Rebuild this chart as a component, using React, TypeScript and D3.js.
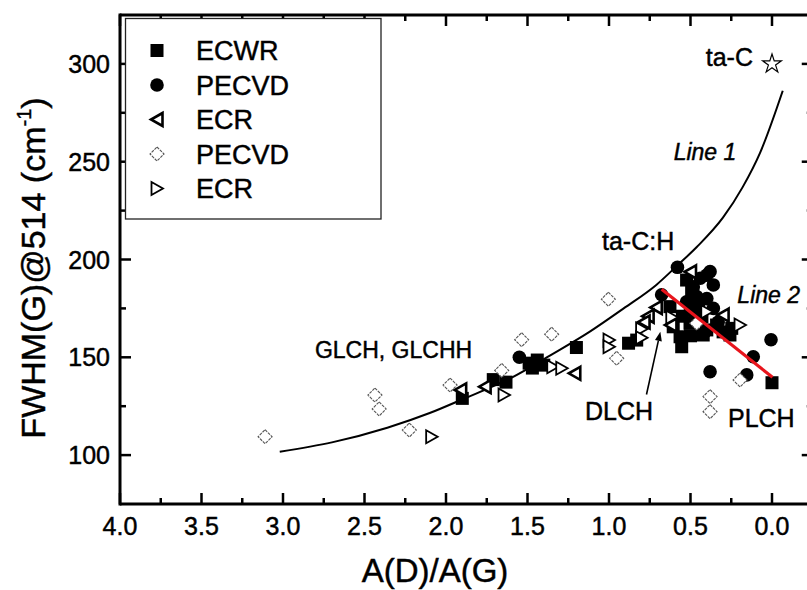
import React from "react";
import * as d3 from "d3";

// ---------- data ----------
const ecwrX = [1.9, 1.71, 1.632, 1.49, 1.44, 1.4, 1.47, 1.2, 0.88, 0.83, 0.626, 0.606, 0.564, 0.554, 0.503, 0.43, 0.4, 0.34, 0.258, 0.247, 0.493, 0.524, 0.422, 0.0, 0.45, 0.55, 0.5, 0.3];
const ecwrY = [129, 138.6, 137.3, 147, 148.6, 146, 144.5, 155, 157.2, 158.8, 175.9, 165.6, 160.5, 155.4, 167.4, 170.8, 164, 166.5, 161.4, 164.8, 184.4, 189.5, 161.4, 137, 176, 171, 161, 163];

const pecvdFX = [1.55, 0.58, 0.677, 0.4, 0.44, 0.36, 0.483, 0.462, 0.4, 0.524, 0.462, 0.36, 0.411, 0.38, 0.115, 0.155, 0.006, 0.38, 0.33, 0.5];
const pecvdFY = [150, 196, 182, 192, 190.4, 187, 186, 181, 180, 178.4, 171.6, 175, 163, 142.6, 150.3, 141, 159, 193.8, 168, 174];

const ecrLX = [1.91, 1.76, 1.21, 0.71, 0.76, 0.785, 0.5, 0.3, 0.62];
const ecrLY = [133.3, 135, 141.8, 175.5, 171, 168, 193.7, 171.6, 166.5];

const pecvdOX = [3.11, 2.436, 2.41, 2.225, 1.975, 1.658, 1.536, 1.352, 1.004, 0.953, 0.462, 0.196, 0.38, 0.38];
const pecvdOY = [109.4, 130.7, 123.6, 112.8, 135.8, 143.3, 159, 161.8, 179.7, 149.5, 167.4, 138.4, 129.9, 122.2];

const ecrRX = [2.088, 1.644, 1.345, 1.29, 1.0, 1.0, 0.8, 0.8, 0.4, 0.196, 0.615];
const ecrRY = [109.4, 130.7, 145.2, 144.4, 158.8, 155.4, 164.5, 160, 173.3, 166.5, 170.5];

const taCX = [0.0];
const taCY = [300];

const line1X = [3.02, 2.7, 2.36, 2.1, 1.9, 1.6, 1.36, 1.12, 0.91, 0.71, 0.58, 0.46, 0.3, 0.18, 0.074, -0.066];
const line1Y = [101.7, 106.5, 114, 121.5, 128.5, 139.5, 151, 163, 175, 187, 197, 206.5, 221.5, 237, 254.4, 286.3];

const line2X = [0.677, -0.003];
const line2Y = [184.8, 139.8];

const xMajor = [4.0, 3.5, 3.0, 2.5, 2.0, 1.5, 1.0, 0.5, 0.0];
const xMinor = [3.75, 3.25, 2.75, 2.25, 1.75, 1.25, 0.75, 0.25];
const yMajor = [100, 150, 200, 250, 300];
const yMinor = [125, 175, 225, 275];

const legendLabels = ["ECWR", "PECVD", "ECR", "PECVD", "ECR"];
const legendKinds = ["square", "circle", "left", "diamond", "right"];

// ---------- layout ----------
const W = 807, H = 590;
const L = 120, R = 812.75, T = 15, B = 504;
const x = d3.scaleLinear().domain([4, -0.25]).range([L, R]);
const y = d3.scaleLinear().domain([75, 325]).range([B, T]);
const FONT = "'Liberation Sans', Arial, Helvetica, sans-serif";
const TS = { stroke: "#000", strokeWidth: 0.45 };

function Marker({ kind, cx, cy }: { kind: string; cx: number; cy: number }) {
  if (kind === "square") {
    return <rect x={cx - 6.5} y={cy - 6.5} width={13} height={13} fill="#000" />;
  }
  if (kind === "circle") {
    return <circle cx={cx} cy={cy} r={6.8} fill="#000" />;
  }
  if (kind === "left") {
    return (
      <path
        d={`M${cx + 5.5},${cy - 6.5} L${cx - 6},${cy} L${cx + 5.5},${cy + 6.5} Z`}
        fill="#fff"
        stroke="#000"
        strokeWidth={2.6}
        strokeLinejoin="miter"
      />
    );
  }
  if (kind === "right") {
    return (
      <path
        d={`M${cx - 5.5},${cy - 6.5} L${cx + 6},${cy} L${cx - 5.5},${cy + 6.5} Z`}
        fill="#fff"
        stroke="#000"
        strokeWidth={1.8}
      />
    );
  }
  if (kind === "diamond") {
    return (
      <path
        d={`M${cx},${cy - 7} L${cx + 7},${cy} L${cx},${cy + 7} L${cx - 7},${cy} Z`}
        fill="#fff"
        stroke="#555"
        strokeWidth={1.1}
        strokeDasharray="3,1"
      />
    );
  }
  return null;
}

export default function App() {
  const line1 = d3
    .line<number>()
    .x((_, i) => x(line1X[i]))
    .y((_, i) => y(line1Y[i]))
    .curve(d3.curveMonotoneX)(line1X) as string;
  const line2 = d3
    .line<number>()
    .x((_, i) => x(line2X[i]))
    .y((_, i) => y(line2Y[i]))(line2X) as string;
  const star = d3.symbol().type(d3.symbolStar).size(110)() as string;

  const series: { kind: string; xs: number[]; ys: number[] }[] = [
    { kind: "square", xs: ecwrX, ys: ecwrY },
    { kind: "circle", xs: pecvdFX, ys: pecvdFY },
    { kind: "left", xs: ecrLX, ys: ecrLY },
    { kind: "diamond", xs: pecvdOX, ys: pecvdOY },
    { kind: "right", xs: ecrRX, ys: ecrRY },
  ];

  // arrow DLCH (data coordinates)
  const aStart = [0.77, 131];
  const aEnd = [0.685, 163];
  const ax1 = x(aStart[0]), ay1 = y(aStart[1]), ax2 = x(aEnd[0]), ay2 = y(aEnd[1]);
  const ang = Math.atan2(ay2 - ay1, ax2 - ax1);
  const ah = 9, aw = 3.5;
  const bx = ax2 - ah * Math.cos(ang), by = ay2 - ah * Math.sin(ang);
  const arrowHead = `M${ax2},${ay2} L${bx + aw * Math.sin(ang)},${by - aw * Math.cos(ang)} L${bx - aw * Math.sin(ang)},${by + aw * Math.cos(ang)} Z`;

  return (
    <svg
      width={W}
      height={H}
      style={{ position: "absolute", left: 0, top: 0, background: "#fff" }}
      fontFamily={FONT}
    >
      <rect x={0} y={0} width={W} height={H} fill="#fff" />

      {/* Line 1 */}
      <path d={line1} fill="none" stroke="#000" strokeWidth={2} />

      {/* scatter */}
      {series.map((s, si) =>
        s.xs.map((v, i) => <Marker key={`${si}-${i}`} kind={s.kind} cx={x(v)} cy={y(s.ys[i])} />)
      )}

      {/* ta-C star */}
      {taCX.map((v, i) => (
        <path key={`s${i}`} d={star} transform={`translate(${x(v)},${y(taCY[i])})`} fill="#fff" stroke="#000" strokeWidth={1.2} />
      ))}

      {/* Line 2 (red) */}
      <path d={line2} fill="none" stroke="#e8141c" strokeWidth={3.2} />

      {/* arrow */}
      <line x1={ax1} y1={ay1} x2={bx} y2={by} stroke="#000" strokeWidth={1.6} />
      <path d={arrowHead} fill="#000" />

      {/* annotations */}
      <g {...TS}>
        <text x={x(0.0) - 19} y={y(300) + 2} fontSize={25} textAnchor="end">ta-C</text>
        <text x={x(0.411)} y={y(251)} fontSize={23} fontStyle="italic" textAnchor="middle">Line 1</text>
        <text x={x(1.043)} y={y(204.9)} fontSize={25}>ta-C:H</text>
        <text x={x(-0.172)} y={y(177.8)} fontSize={23} fontStyle="italic" textAnchor="end">Line 2</text>
        <text x={x(2.804)} y={y(149.6)} fontSize={23}>GLCH, GLCHH</text>
        <text x={x(1.147)} y={y(117.9)} fontSize={25}>DLCH</text>
        <text x={x(0.27)} y={y(114.4)} fontSize={25}>PLCH</text>
      </g>

      {/* axes frame */}
      <g stroke="#000" strokeWidth={3} fill="none">
        <line x1={L} y1={B} x2={R + 2} y2={B} />
        <line x1={L} y1={T} x2={R + 2} y2={T} />
        <line x1={L} y1={T - 1.5} x2={L} y2={B + 1.5} />
        <line x1={R} y1={T - 1.5} x2={R} y2={B + 1.5} />
      </g>

      {/* ticks */}
      <g stroke="#000" strokeWidth={2.5}>
        {xMajor.map((v) => (
          <g key={`xm${v}`}>
            <line x1={x(v)} x2={x(v)} y1={B} y2={B - 11} />
            <line x1={x(v)} x2={x(v)} y1={T} y2={T + 11} />
          </g>
        ))}
        {xMinor.map((v) => (
          <g key={`xn${v}`}>
            <line x1={x(v)} x2={x(v)} y1={B} y2={B - 6} />
            <line x1={x(v)} x2={x(v)} y1={T} y2={T + 6} />
          </g>
        ))}
        {yMajor.map((v) => (
          <g key={`ym${v}`}>
            <line x1={L} x2={L + 11} y1={y(v)} y2={y(v)} />
            <line x1={R} x2={R - 11} y1={y(v)} y2={y(v)} />
          </g>
        ))}
        {yMinor.map((v) => (
          <g key={`yn${v}`}>
            <line x1={L} x2={L + 6} y1={y(v)} y2={y(v)} />
            <line x1={R} x2={R - 6} y1={y(v)} y2={y(v)} />
          </g>
        ))}
      </g>

      {/* tick labels */}
      <g {...TS}>
        {xMajor.map((v) => (
          <text key={`xl${v}`} x={x(v)} y={535} fontSize={25} textAnchor="middle">
            {d3.format(".1f")(v)}
          </text>
        ))}
        {yMajor.map((v) => (
          <text key={`yl${v}`} x={110} y={y(v) + 9} fontSize={25} textAnchor="end">
            {v}
          </text>
        ))}
      </g>

      {/* axis titles */}
      <g {...TS}>
        <text x={435} y={582} fontSize={33} textAnchor="middle">A(D)/A(G)</text>
        <text transform={`translate(45,268) rotate(-90)`} fontSize={34} textAnchor="middle">
          FWHM(G)@514 (cm
          <tspan fontSize={20} dy={-14}>-1</tspan>
          <tspan dy={14}>)</tspan>
        </text>
      </g>

      {/* legend */}
      <rect x={125.5} y={18.5} width={255.5} height={200.5} fill="#fff" stroke="#222" strokeWidth={1.3} />
      {legendLabels.map((lab, i) => {
        const cy = 50.5 + i * 34.5;
        return (
          <g key={`lg${i}`}>
            <Marker kind={legendKinds[i]} cx={157} cy={cy} />
            <text x={196} y={cy + 9.5} fontSize={27} {...TS}>{lab}</text>
          </g>
        );
      })}
    </svg>
  );
}
